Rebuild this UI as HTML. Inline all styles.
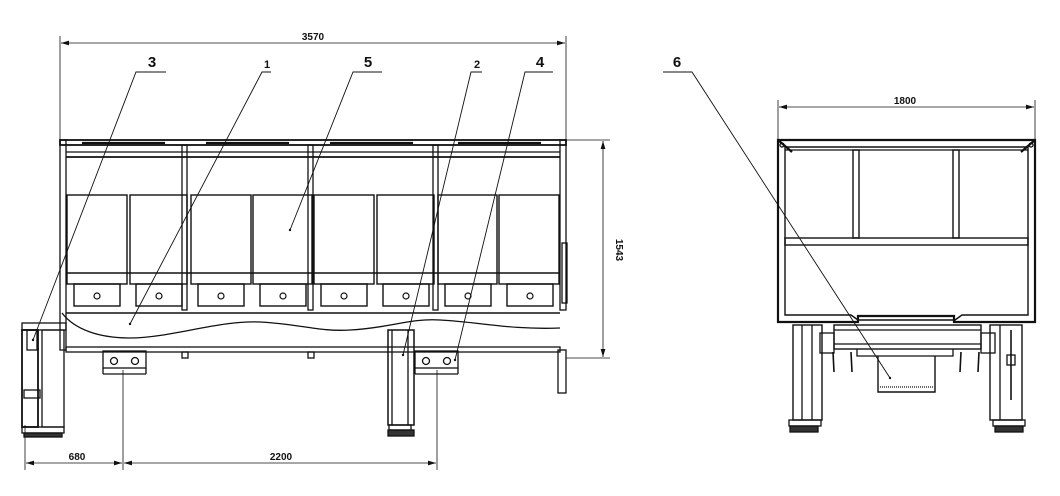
<!DOCTYPE html>
<html><head><meta charset="utf-8"><style>
html,body{margin:0;padding:0;background:#fff;width:1060px;height:496px;overflow:hidden}
svg{display:block}
text{font-family:"Liberation Sans Narrow","Liberation Sans",sans-serif;font-weight:bold;fill:#111}
</style></head><body>
<svg width="1060" height="496" viewBox="0 0 1060 496" xmlns="http://www.w3.org/2000/svg">
<defs>
<marker id="a" viewBox="0 0 10 6" refX="10" refY="3" markerWidth="10" markerHeight="6" orient="auto-start-reverse"><path d="M0,0L10,3L0,6z" fill="#111"/></marker>
</defs>
<g stroke="#111" fill="none" stroke-width="1.3">
<line x1="60" y1="36" x2="60" y2="140" stroke-width=".8"/>
<line x1="566" y1="36" x2="566" y2="140" stroke-width=".8"/>
<line x1="61" y1="43" x2="565" y2="43" marker-start="url(#a)" marker-end="url(#a)" stroke-width=".8"/>
<line x1="566" y1="140" x2="610" y2="140" stroke-width=".8"/>
<line x1="566" y1="358" x2="610" y2="358" stroke-width=".8"/>
<line x1="603" y1="141" x2="603" y2="357" marker-start="url(#a)" marker-end="url(#a)" stroke-width=".8"/>
<line x1="25" y1="425" x2="25" y2="470" stroke-width=".8"/>
<line x1="123" y1="370" x2="123" y2="470" stroke-width=".8"/>
<line x1="437" y1="370" x2="437" y2="470" stroke-width=".8"/>
<line x1="26" y1="463" x2="122" y2="463" marker-start="url(#a)" marker-end="url(#a)" stroke-width=".8"/>
<line x1="124" y1="463" x2="436" y2="463" marker-start="url(#a)" marker-end="url(#a)" stroke-width=".8"/>

<rect x="60" y="140" width="506" height="5" stroke-width="1.8"/>
<line x1="66" y1="152" x2="560" y2="152"/>
<line x1="66" y1="157" x2="560" y2="157" stroke-width="1.8"/>
<g stroke-width="2.2"><line x1="82" y1="143" x2="165" y2="143"/><line x1="206" y1="143" x2="289" y2="143"/><line x1="330" y1="143" x2="413" y2="143"/><line x1="458" y1="143" x2="541" y2="143"/></g>
<rect x="60" y="140" width="6" height="210"/>
<rect x="560" y="140" width="6" height="170"/>
<rect x="182" y="145" width="5" height="165"/>
<rect x="308" y="145" width="5" height="165"/>
<rect x="433" y="145" width="5" height="165"/>
<g stroke-width="1.4">
<rect x="67" y="195" width="60" height="89"/><rect x="130" y="195" width="57" height="89"/>
<rect x="191" y="195" width="60" height="89"/><rect x="253" y="195" width="59" height="89"/>
<rect x="314" y="195" width="60" height="89"/><rect x="377" y="195" width="57" height="89"/>
<rect x="438" y="195" width="59" height="89"/><rect x="499" y="195" width="60" height="89"/>
<line x1="67" y1="273" x2="559" y2="273"/>
</g>
<g stroke-width="1.4">
<rect x="74" y="284" width="46" height="22"/><rect x="136" y="284" width="46" height="22"/>
<rect x="198" y="284" width="46" height="22"/><rect x="260" y="284" width="46" height="22"/>
<rect x="321" y="284" width="46" height="22"/><rect x="383" y="284" width="46" height="22"/>
<rect x="445" y="284" width="46" height="22"/><rect x="507" y="284" width="46" height="22"/>
<line x1="66" y1="313" x2="560" y2="313"/>
</g>
<g stroke-width="1.2">
<circle cx="97" cy="296" r="3"/><circle cx="159" cy="296" r="3"/><circle cx="221" cy="296" r="3"/><circle cx="283" cy="296" r="3"/>
<circle cx="344" cy="296" r="3"/><circle cx="406" cy="296" r="3"/><circle cx="468" cy="296" r="3"/><circle cx="530" cy="296" r="3"/>
</g>
<path d="M62,313 C75,330 100,338 130,338 C170,338 220,320 260,322 C300,324 320,332 350,330 C390,328 410,318 440,320 C480,322 510,330 560,328"/>
<rect x="66" y="347" width="494" height="5"/>
<rect x="182" y="352" width="6" height="6"/><rect x="308" y="352" width="6" height="6"/>
<rect x="558" y="350" width="8" height="43"/>
<rect x="562" y="243" width="5" height="60"/>
<rect x="103" y="351" width="43" height="17"/><line x1="103" y1="374" x2="146" y2="374"/><line x1="103" y1="368" x2="103" y2="374"/><line x1="146" y1="368" x2="146" y2="374"/>
<circle cx="114" cy="361" r="3.5"/><circle cx="135" cy="361" r="3.5"/>
<rect x="415" y="351" width="43" height="17"/><line x1="415" y1="374" x2="458" y2="374"/><line x1="415" y1="368" x2="415" y2="374"/><line x1="458" y1="368" x2="458" y2="374"/>
<circle cx="426" cy="361" r="3.5"/><circle cx="447" cy="361" r="3.5"/>
<rect x="22" y="323" width="44" height="7"/>
<rect x="22" y="330" width="16" height="97" stroke-width="1.8"/>
<rect x="42" y="330" width="22" height="97"/>
<rect x="27" y="330" width="10" height="20"/>
<rect x="24" y="390" width="16" height="8"/>
<rect x="22" y="427" width="42" height="6"/>
<rect x="24" y="433" width="38" height="4" fill="#333"/>
<rect x="388" y="330" width="26" height="95" stroke-width="1.5"/>
<line x1="392" y1="330" x2="392" y2="425"/><line x1="408" y1="330" x2="408" y2="425"/>
<rect x="389" y="425" width="22" height="5"/>
<rect x="388" y="430" width="26" height="6" fill="#333"/>

<line x1="778" y1="100" x2="778" y2="140" stroke-width=".8"/>
<line x1="1035" y1="100" x2="1035" y2="140" stroke-width=".8"/>
<line x1="779" y1="107" x2="1034" y2="107" marker-start="url(#a)" marker-end="url(#a)" stroke-width=".8"/>
<path d="M778,140H1035V322H954V316H858V322H778Z" stroke-width="2.2"/>
<path d="M785,147H1028V315H962L955,320H858L851,315H785Z" stroke-width="1.4"/>
<line x1="785" y1="150" x2="1028" y2="150"/>
<line x1="778" y1="140" x2="792" y2="152" stroke-width="2.2"/><line x1="1035" y1="140" x2="1021" y2="152" stroke-width="2.2"/>
<circle cx="782" cy="145" r="2"/><circle cx="1031" cy="145" r="2"/>
<rect x="853" y="150" width="6" height="88" stroke-width="1.4"/>
<rect x="953" y="150" width="6" height="88" stroke-width="1.4"/>
<rect x="785" y="238" width="243" height="7" stroke-width="1.4"/>
<rect x="834" y="325" width="147" height="24" stroke-width="1.4"/>
<line x1="834" y1="330" x2="981" y2="330"/><line x1="834" y1="344" x2="981" y2="344"/>
<rect x="820" y="333" width="14" height="20"/><rect x="981" y="333" width="14" height="20"/>
<path d="M857,349V356H953V349"/>
<path d="M878,356V392H935V356" stroke-width="1.4"/>
<line x1="880" y1="387" x2="933" y2="387" stroke-dasharray="1 1"/>
<path d="M833,352L834,372M851,352L852,372M961,352L960,372M979,352L978,372" stroke-width="1.6"/>
<rect x="793" y="325" width="29" height="95" stroke-width="1.4"/>
<line x1="802" y1="325" x2="802" y2="420"/><line x1="812" y1="325" x2="812" y2="420"/>
<rect x="789" y="420" width="32" height="6"/><rect x="790" y="426" width="28" height="6" fill="#333"/>
<rect x="990" y="325" width="32" height="95" stroke-width="1.4"/>
<line x1="1000" y1="325" x2="1000" y2="420"/><line x1="1011" y1="330" x2="1011" y2="400" stroke-width="1.6"/>
<rect x="1007" y="355" width="8" height="10"/>
<rect x="993" y="420" width="32" height="6"/><rect x="995" y="426" width="28" height="6" fill="#333"/>

<g stroke-width=".9">
<path d="M166,72H136L33,340"/>
<path d="M271,72H262L130,324"/>
<path d="M382,72H353L290,230"/>
<path d="M482,72H471L403,355"/>
<path d="M553,72H525L455,360"/>
<path d="M663,72H692L890,378"/>
</g>
</g>
<g fill="#111">
<circle cx="33" cy="340" r="1.2"/><circle cx="130" cy="324" r="1.2"/><circle cx="290" cy="230" r="1.2"/>
<circle cx="403" cy="355" r="1.2"/><circle cx="455" cy="360" r="1.2"/><circle cx="890" cy="378" r="1.2"/>
</g>
<text x="313" y="40" font-size="10" text-anchor="middle">3570</text>
<text x="905" y="104" font-size="10" text-anchor="middle">1800</text>
<text x="77" y="460" font-size="10" text-anchor="middle">680</text>
<text x="281" y="460" font-size="10" text-anchor="middle">2200</text>
<text x="0" y="0" font-size="10" text-anchor="middle" transform="translate(616,250) rotate(90)">1543</text>
<text x="152" y="67" font-size="15" text-anchor="middle">3</text>
<text x="267" y="68" font-size="11" text-anchor="middle">1</text>
<text x="368" y="67" font-size="15" text-anchor="middle">5</text>
<text x="477" y="68" font-size="11" text-anchor="middle">2</text>
<text x="540" y="67" font-size="15" text-anchor="middle">4</text>
<text x="677" y="67" font-size="15" text-anchor="middle">6</text>
</svg>
</body></html>
